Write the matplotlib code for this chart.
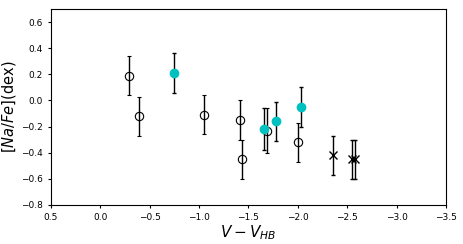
import matplotlib
matplotlib.use("Agg")
import matplotlib.pyplot as plt

# open circles
open_x = [-0.29, -0.39, -1.05, -1.41, -1.44, -1.69, -2.00]
open_y = [0.19, -0.12, -0.11, -0.15, -0.45, -0.23, -0.32]
open_err = [0.15, 0.15, 0.15, 0.15, 0.15, 0.17, 0.15]
# filled cyan
cyan_x = [-0.745, -1.66, -1.78, -2.03]
cyan_y = [0.21, -0.22, -0.16, -0.05]
cyan_err = [0.15, 0.16, 0.15, 0.15]
# crosses
cross_x = [-2.36, -2.55, -2.58]
cross_y = [-0.42, -0.45, -0.45]
cross_err = [0.15, 0.15, 0.15]

xticks = [0.5, 0.0, -0.5, -1.0, -1.5, -2.0, -2.5, -3.0, -3.5]
yticks = [-0.8, -0.6, -0.4, -0.2, 0.0, 0.2, 0.4, 0.6]

fig = plt.figure(figsize=(4.63, 2.44), dpi=100)
ax = fig.add_axes([0.110, 0.160, 0.853, 0.803])

ax.errorbar(open_x, open_y, yerr=open_err, fmt='o', mfc='none', mec='black',
            ecolor='black', ms=6, mew=0.8, capsize=1.5, elinewidth=1, capthick=1)
ax.errorbar(cyan_x, cyan_y, yerr=cyan_err, fmt='o', color='#00c0c0', mec='#00c0c0',
            ecolor='black', ms=6, capsize=1.5, elinewidth=1, capthick=1)
ax.errorbar(cross_x, cross_y, yerr=cross_err, fmt='x', color='black',
            ecolor='black', ms=6, mew=1, capsize=1.5, elinewidth=1, capthick=1)

ax.set_xlim(0.5, -3.5)
ax.set_ylim(-0.8, 0.7)
ax.set_xticks(xticks)
ax.set_yticks(yticks)
ax.tick_params(labelsize=6.5, length=2.5, width=0.8)
ax.set_xlabel(r'$V-V_{HB}$', fontsize=11, labelpad=1)
ax.set_ylabel(r'$[Na/Fe]$(dex)', fontsize=10.5, labelpad=2)
for s in ax.spines.values():
    s.set_linewidth(0.8)

fig.savefig("out.png", dpi=100)
